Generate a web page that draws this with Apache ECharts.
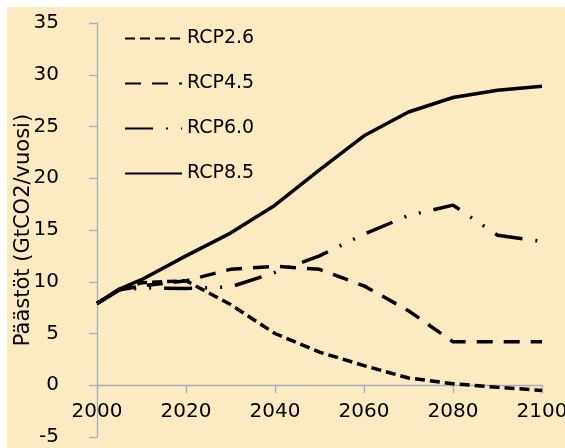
<!DOCTYPE html>
<html>
<head>
<meta charset="utf-8">
<script src="https://cdn.jsdelivr.net/npm/echarts@6/dist/echarts.min.js"></script>
<style>
  html, body { margin: 0; padding: 0; background: #fff; }
  #bg { position: absolute; left: 7px; top: 7px; right: 0; bottom: 0; background: #fcebc2; }
  #chart { position: absolute; left: 0; top: 0; width: 565px; height: 448px; }
</style>
</head>
<body>
<div id="bg"></div>
<div id="chart"></div>
<script>
// vuodet ja skenaarioiden päästöt (GtCO2/vuosi)
const years = [2000, 2005, 2010, 2020, 2030, 2040, 2050, 2060, 2070, 2080, 2090, 2100]
const rcp26 = [7.9, 9.2, 9.9, 10.1, 7.8, 5.0, 3.2, 1.9, 0.7, 0.15, -0.2, -0.5]
const rcp45 = [7.9, 9.2, 9.6, 10.1, 11.2, 11.5, 11.2, 9.6, 7.2, 4.2, 4.2, 4.2]
const rcp60 = [7.9, 9.2, 9.4, 9.35, 9.5, 10.9, 12.5, 14.6, 16.4, 17.4, 14.5, 13.9]
const rcp85 = [7.9, 9.3, 10.2, 12.5, 14.7, 17.4, 20.8, 24.1, 26.4, 27.8, 28.5, 28.9]
const seriesNames = ['RCP2.6', 'RCP4.5', 'RCP6.0', 'RCP8.5']

const axisColor = '#a6adc2'
const font = 'DejaVu Sans'

function pairs(values) {
  return years.map((y, i) => [y, values[i]])
}

function line(name, values, type) {
  return {
    name,
    type: 'line',
    symbol: 'none',
    data: pairs(values),
    lineStyle: { color: '#000', width: 3.5, type, cap: 'butt' },
    itemStyle: { color: '#000' },
  }
}

const chart = echarts.init(document.getElementById('chart'))

chart.setOption({
  backgroundColor: 'transparent',
  animation: false,
  grid: { left: 97, right: 23, top: 23, bottom: 11, outerBoundsMode: 'none' },
  legend: {
    orient: 'vertical',
    left: 119,
    top: 24,
    itemWidth: 57,
    itemHeight: 14,
    itemGap: 26,
    data: seriesNames,
    itemStyle: { color: 'transparent', borderWidth: 0 },
    textStyle: { fontFamily: font, fontSize: 19, color: '#000' },
  },
  xAxis: {
    type: 'value',
    min: 2000,
    max: 2100,
    interval: 20,
    axisLine: { onZero: true, lineStyle: { color: axisColor, width: 1.3 } },
    axisTick: { show: true, length: 8, lineStyle: { color: axisColor, width: 1.3 } },
    // nimiöt nollaviivan alle
    axisLabel: {
      margin: -35,
      fontFamily: font,
      fontSize: 20,
      color: '#000',
      formatter: (v) => String(v),
    },
    splitLine: { show: false },
  },
  yAxis: {
    type: 'value',
    min: -5,
    max: 35,
    interval: 5,
    name: 'Päästöt (GtCO2/vuosi)',
    nameLocation: 'middle',
    nameGap: 63,
    nameMoveOverlap: false,
    nameTextStyle: { fontFamily: font, fontSize: 21, color: '#000' },
    axisLine: { show: true, lineStyle: { color: axisColor, width: 1.3 } },
    axisTick: { show: true, length: 8, lineStyle: { color: axisColor, width: 1.3 } },
    axisLabel: { margin: 38, fontFamily: font, fontSize: 20, color: '#000' },
    splitLine: { show: false },
  },
  series: [
    line('RCP2.6', rcp26, [10, 5]),
    line('RCP4.5', rcp45, [16, 11]),
    line('RCP6.0', rcp60, [28, 13, 2, 13, 2, 13]),
    line('RCP8.5', rcp85, 'solid'),
  ],
})
</script>
</body>
</html>
